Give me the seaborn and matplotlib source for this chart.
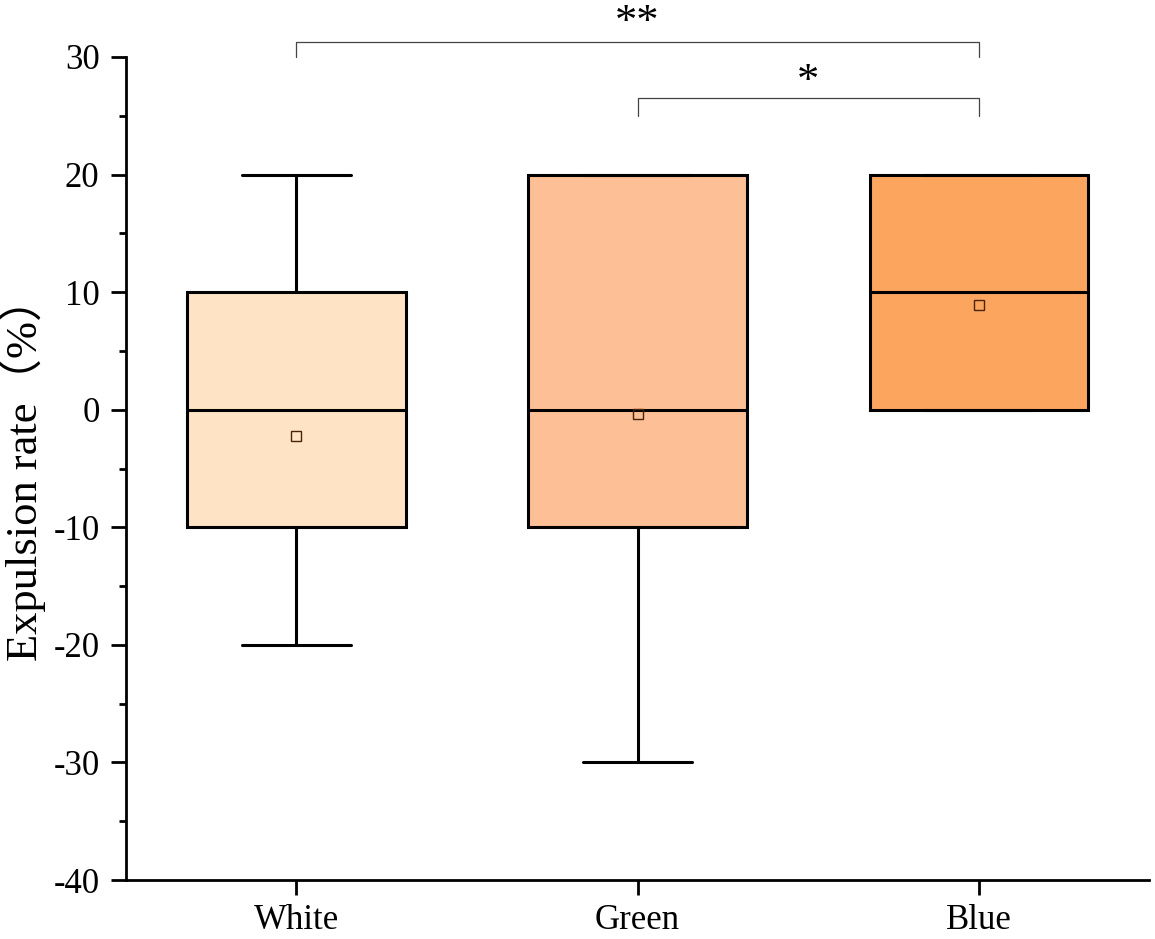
import numpy as np
import pandas as pd
import seaborn as sns
from matplotlib import pyplot as plt

# data (expulsion rate, %)
groups = ["White", "Green", "Blue"]
white_vals = [-20, -20, -10, -10, 0, 0, 10, 10, 20]
green_vals = [-30, -20, -10, -10, 0, 7, 20, 20, 20]
blue_vals = [0, 0, 0, 0, 10, 10, 20, 20, 20]
box_colors = ["#FEE3C4", "#FDBF95", "#FBA55F"]
y_ticks = [-40, -30, -20, -10, 0, 10, 20, 30]

df = pd.DataFrame({
    "group": ["White"] * len(white_vals) + ["Green"] * len(green_vals) + ["Blue"] * len(blue_vals),
    "rate": white_vals + green_vals + blue_vals,
})

sns.set_theme(style="ticks")
plt.rcParams['font.family'] = ['Liberation Serif', 'Noto Sans CJK SC']
plt.rcParams.update({
    'axes.linewidth': 2.0, 'axes.unicode_minus': False,
    'text.color': 'black', 'axes.labelcolor': 'black', 'axes.edgecolor': 'black',
    'xtick.color': 'black', 'ytick.color': 'black',
})

fig = plt.figure(figsize=(11.55, 9.39), dpi=100)
ax = fig.add_axes([0.109, 0.0628, 0.886, 0.8765])

sns.boxplot(ax=ax, data=df, x="group", y="rate", order=groups, hue="group",
            palette=box_colors, legend=False, width=0.64, whis=(0, 100),
            linewidth=2.2, linecolor="black", showmeans=True,
            meanprops=dict(marker="s", markerfacecolor="none", markeredgecolor="#4a2408",
                           markersize=7, markeredgewidth=1.0),
            whiskerprops=dict(color="black", linewidth=2.2),
            capprops=dict(color="black", linewidth=2.2),
            medianprops=dict(color="black", linewidth=2.2),
            boxprops=dict(edgecolor="black", linewidth=2.2),
            fliersize=0, saturation=1)

ax.set_xlim(-0.5, 2.5)
ax.set_ylim(-40, 30)
ax.set_yticks(y_ticks)
ax.set_yticks(np.arange(-35, 30, 10), minor=True)
ax.tick_params(axis="both", which="major", length=11, width=2.0, labelsize=25, direction="out")
ax.tick_params(axis="y", which="major", pad=8)
ax.tick_params(axis="x", which="major", pad=6)
ax.tick_params(axis="y", which="minor", length=5, width=2.0, direction="out")
ax.set_xlabel("")
ax.set_ylabel("Expulsion rate（%）", fontsize=32, labelpad=5)
sns.despine(ax=ax)

# significance brackets
def bracket(x1, x2, y0, y1, label, ty):
    ax.plot([x1, x1, x2, x2], [y0, y1, y1, y0], color="#444444", lw=0.9, clip_on=False)
    ax.text((x1 + x2) / 2, ty, label, ha="center", va="center", fontsize=32, clip_on=False)

bracket(0, 2, 30, 31.3, "**", 32.9)
bracket(1, 2, 25, 26.5, "*", 27.9)

fig.savefig("out.png", dpi=100)
